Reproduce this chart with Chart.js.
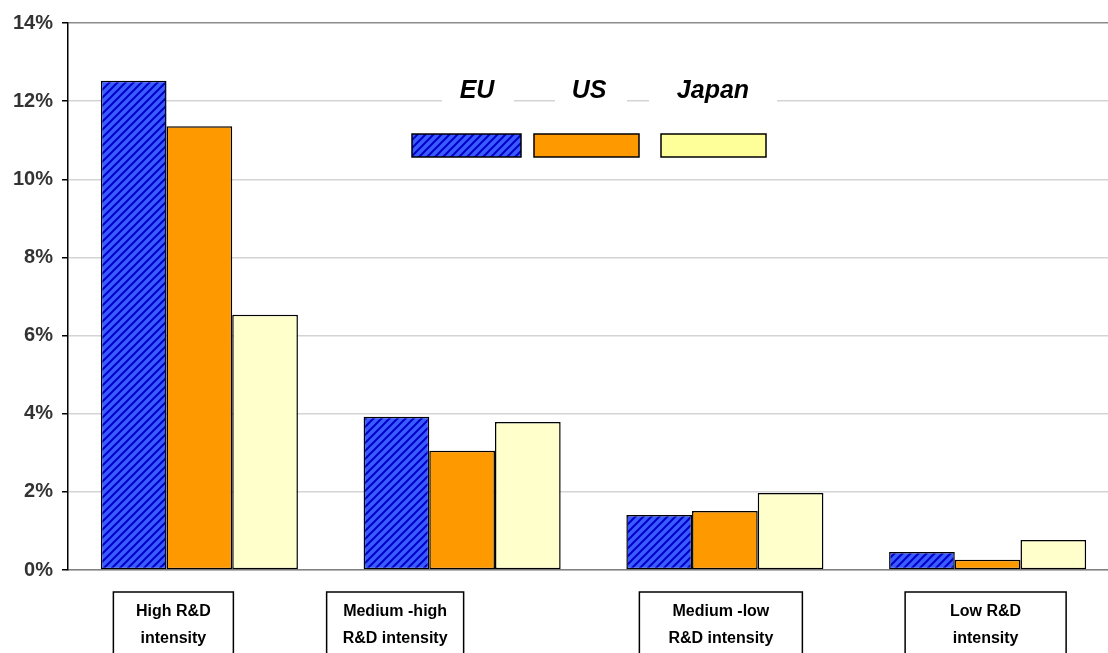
<!DOCTYPE html>
<html>
<head>
<meta charset="utf-8">
<script src="https://cdn.jsdelivr.net/npm/chart.js@4.4.1/dist/chart.umd.min.js"></script>
<style>
  html, body { margin: 0; padding: 0; background: #fff; overflow: hidden; }
  #wrap { width: 1119px; height: 653px; position: relative; }
</style>
</head>
<body>
<div id="wrap"><canvas id="grafico"></canvas></div>
<script>
// categorias e séries (valores em %)
const categorias = [
  ['High R&D', 'intensity'],
  ['Medium -high', 'R&D intensity'],
  ['Medium -low', 'R&D intensity'],
  ['Low R&D', 'intensity']
];
const series = ['EU', 'US', 'Japan'];
const valoresEU = [12.52, 3.92, 1.41, 0.46];
const valoresUS = [11.36, 3.05, 1.51, 0.26];
const valoresJapao = [6.53, 3.79, 1.97, 0.77];
const ticksY = [0, 2, 4, 6, 8, 10, 12, 14];

// padrão listrado azul da UE
function criarPadrao() {
  const t = 8;
  const c = document.createElement('canvas');
  c.width = t; c.height = t;
  const g = c.getContext('2d');
  g.fillStyle = '#3a5cff';
  g.fillRect(0, 0, t, t);
  g.strokeStyle = '#0000c8';
  g.lineWidth = 2;
  g.beginPath();
  // linhas x + y = 0, t, 2t para fechar a repetição
  g.moveTo(-1, 1); g.lineTo(1, -1);
  g.moveTo(-1, t + 1); g.lineTo(t + 1, -1);
  g.moveTo(t - 1, t + 1); g.lineTo(t + 1, t - 1);
  g.stroke();
  return g.createPattern(c, 'repeat');
}
const padraoEU = criarPadrao();

// caixas dos rótulos do eixo x (deslocamento do centro e largura)
const caixasRotulos = [
  { dx: -26, w: 120 },
  { dx: -67, w: 137 },
  { dx: -4, w: 163 },
  { dx: -2, w: 161 }
];

// legenda desenhada à mão, no meio do gráfico
const legendaManual = {
  id: 'legendaManual',
  afterDraw(chart) {
    const ctx = chart.ctx;
    const itens = [
      { x: 412, w: 109, tx: 477, bg: [442, 514] },
      { x: 534, w: 105, tx: 589, bg: [555, 627] },
      { x: 661, w: 105, tx: 713, bg: [649, 777] }
    ];
    const cores = [padraoEU, '#ff9900', '#ffff99'];
    ctx.save();
    itens.forEach((it, i) => {
      ctx.fillStyle = '#fff';
      ctx.fillRect(it.bg[0], 78, it.bg[1] - it.bg[0], 28);
      ctx.fillStyle = '#000';
      ctx.font = 'italic bold 25px "Liberation Sans", Arial, sans-serif';
      ctx.textAlign = 'center';
      ctx.textBaseline = 'middle';
      ctx.fillText(chart.data.datasets[i].label, it.tx, 91);
      ctx.fillStyle = cores[i];
      ctx.fillRect(it.x, 134, it.w, 23);
      ctx.lineWidth = 1.5;
      ctx.strokeStyle = '#000';
      ctx.strokeRect(it.x, 134, it.w, 23);
    });
    ctx.restore();
  }
};

// rótulos do eixo x dentro de caixas
const rotulosCaixa = {
  id: 'rotulosCaixa',
  afterDraw(chart) {
    const ctx = chart.ctx;
    const xs = chart.scales.x;
    ctx.save();
    chart.data.labels.forEach((lbl, i) => {
      const cx = xs.getPixelForTick(i) + caixasRotulos[i].dx;
      const w = caixasRotulos[i].w;
      ctx.fillStyle = '#fff';
      ctx.fillRect(cx - w / 2, 592, w, 80);
      ctx.lineWidth = 1.5;
      ctx.strokeStyle = '#000';
      ctx.strokeRect(cx - w / 2, 592, w, 80);
      ctx.fillStyle = '#000';
      ctx.font = 'bold 16px "Liberation Sans", Arial, sans-serif';
      ctx.textAlign = 'center';
      ctx.textBaseline = 'middle';
      ctx.fillText(lbl[0], cx, 612);
      ctx.fillText(lbl[1], cx, 639);
    });
    ctx.restore();
  }
};

const ctx = document.getElementById('grafico').getContext('2d');
new Chart(ctx, {
  type: 'bar',
  data: {
    labels: categorias,
    datasets: [
      { label: series[0], data: valoresEU, backgroundColor: padraoEU },
      { label: series[1], data: valoresUS, backgroundColor: '#ff9900' },
      { label: series[2], data: valoresJapao, backgroundColor: '#ffffcc' }
    ].map(d => Object.assign(d, {
      borderColor: '#000',
      borderWidth: 1.5,
      borderSkipped: false,
      categoryPercentage: 0.75,
      barPercentage: 1
    }))
  },
  options: {
    responsive: true,
    maintainAspectRatio: false,
    animation: false,
    layout: { padding: { top: 23, right: 0, left: 0, bottom: 0 } },
    plugins: {
      legend: { display: false },
      tooltip: { enabled: false }
    },
    scales: {
      x: {
        grid: { display: false, drawTicks: false },
        border: { color: '#808080', width: 1.5 },
        ticks: { display: false },
        afterFit(scale) { scale.height = 83; }
      },
      y: {
        min: 0,
        max: 14,
        afterBuildTicks(scale) { scale.ticks = ticksY.map(v => ({ value: v })); },
        border: { color: '#000', width: 1.5 },
        grid: {
          color: c => (c.tick && c.tick.value === 14 ? '#8c8c8c' : '#d4d4d4'),
          lineWidth: 1.5,
          tickColor: '#000',
          tickLength: 6
        },
        ticks: {
          padding: 9,
          color: '#333',
          font: { family: '"Liberation Sans", Arial, sans-serif', size: 20, weight: 'bold' },
          callback: v => v + '%'
        },
        afterFit(scale) { scale.width = 68; }
      }
    }
  },
  plugins: [legendaManual, rotulosCaixa]
});
</script>
</body>
</html>
